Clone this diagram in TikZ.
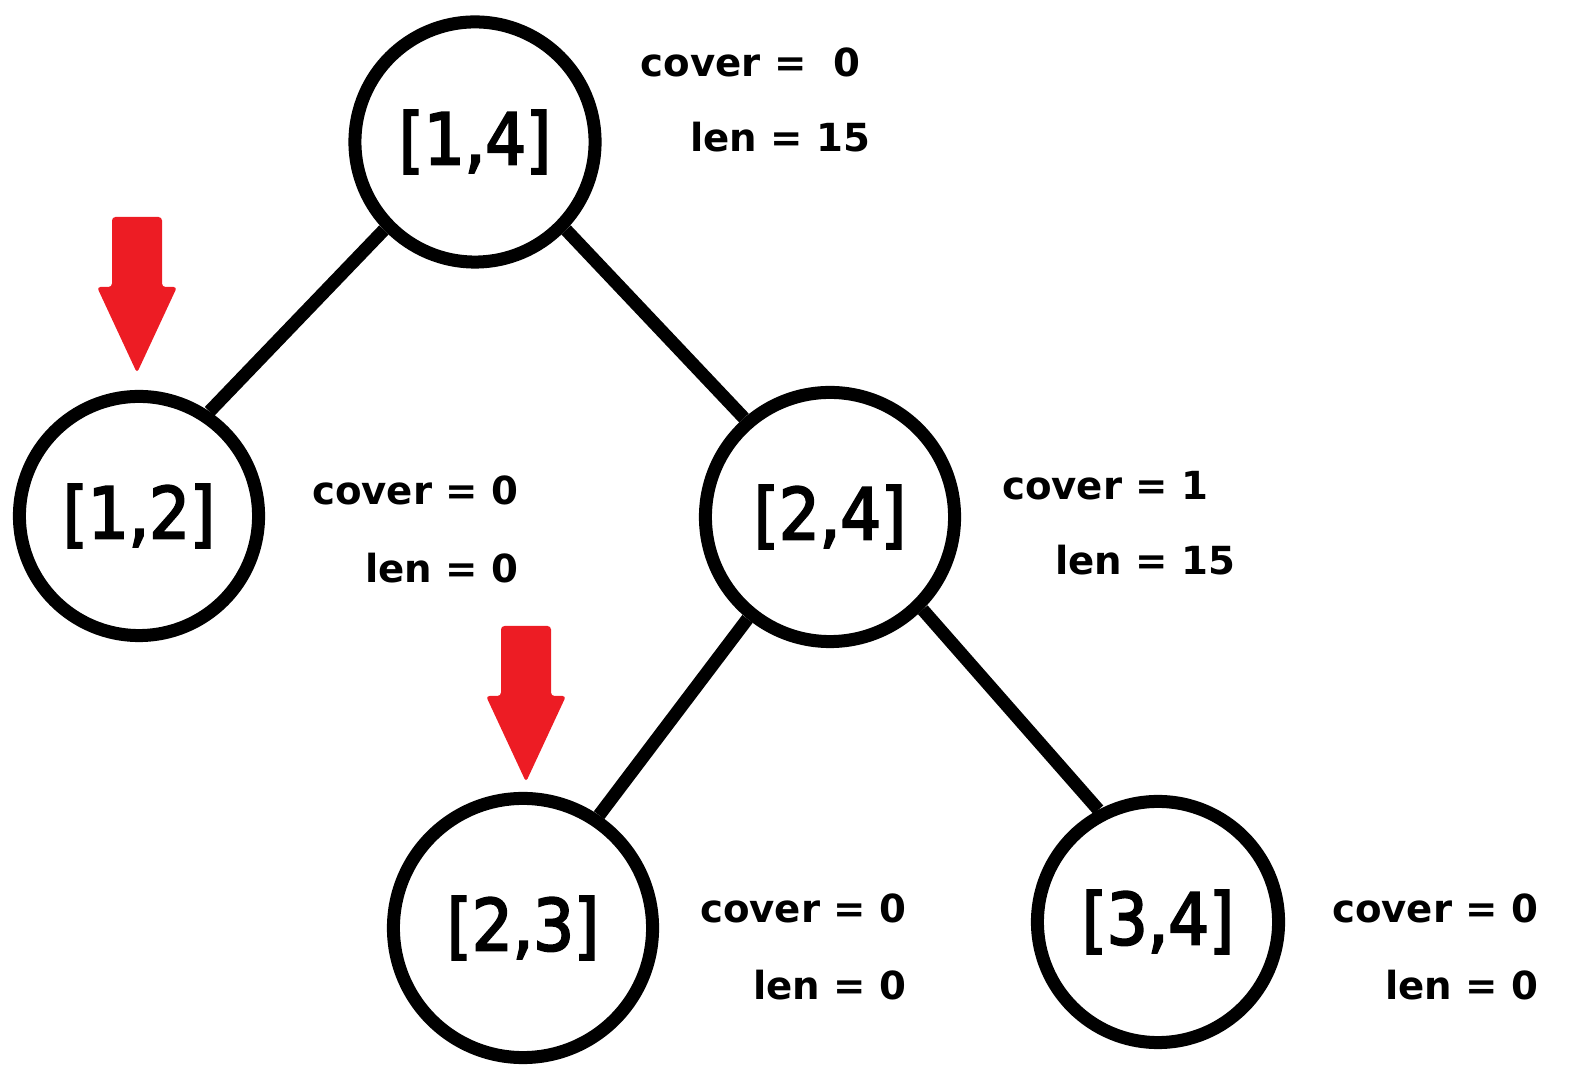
\documentclass[tikz,border=0pt]{standalone}
\usepackage{fontspec}
\setmainfont{DejaVu Sans}
\newfontfamily\rangefont[FakeStretch=0.9,FakeBold=3]{DejaVu Sans}
\usetikzlibrary{positioning}
\definecolor{markred}{HTML}{ED1C24}
\tikzset{
  seg node/.style={circle,draw,line width=3.7pt,inner sep=0pt,
    font=\rangefont\fontsize{20.3}{24}\selectfont},
  info/.style={anchor=base east,inner sep=0pt,
    font=\bfseries\fontsize{11}{13}\selectfont},
  markarrow/.pic={
    \fill[markred,rounded corners=1pt] (-25,-156) -- (25,-156) -- (25,-86)
      -- (40,-86) -- (0,0) -- (-40,-86) -- (-25,-86) -- cycle;
  }
}

\begin{document}
\begin{tikzpicture}[x=0.01cm,y=-0.01cm,line width=3.7pt]
    \useasboundingbox (0,0) rectangle (1576,1074);

              % Segment tree nodes
              \node[seg node,minimum size=2.40cm] (n14) at (475,142) {[1,4]};
              \node[seg node,minimum size=2.39cm] (n12) at (139,516) {[1,2]};
              \node[seg node,minimum size=2.49cm] (n24) at (830,517) {[2,4]};
              \node[seg node,minimum size=2.59cm] (n23) at (523,928) {[2,3]};
              \node[seg node,minimum size=2.41cm] (n34) at (1158,922) {[3,4]};

              % Tree edges
              \path
                (n14.-136) edge (n12.56)
                (n14.-44) edge (n24.131)
                (n24.-129) edge (n23.56)
                (n24.-45) edge (n34.118);

              % cover / len values
              \node[info] (cov14) at (867,77)   {cover =\ \ 0};
              \node[info] (len14) at (877,152)  {len = 15};
              \node[info] (cov12) at (525,505)  {cover = 0};
              \node[info] (len12) at (525,583)  {len = 0};
              \node[info] (cov24) at (1215,500) {cover = 1};
              \node[info] (len24) at (1242,575) {len = 15};
              \node[info] (cov23) at (913,923)  {cover = 0};
              \node[info] (len23) at (913,1000) {len = 0};
              \node[info] (cov34) at (1545,923) {cover = 0};
              \node[info] (len34) at (1545,1000){len = 0};

              % Red markers
              \pic at (137,373) {markarrow};
              \pic at (526,782) {markarrow};
            \end{tikzpicture}
\end{document}
